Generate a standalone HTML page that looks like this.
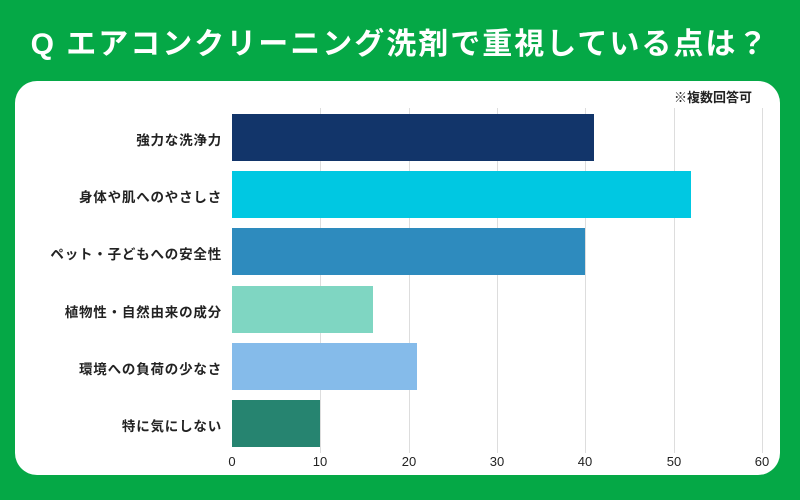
<!DOCTYPE html><html><head><meta charset="utf-8"><style>
body{margin:0;width:800px;height:500px;background:#05a846;position:relative;overflow:hidden;font-family:"Liberation Sans","Noto Sans CJK JP",sans-serif}
.t{position:absolute;left:0;width:800px;top:25px;text-align:center;color:#fff;font-weight:bold;font-size:30px;line-height:40px;letter-spacing:2px}
.card{position:absolute;left:15px;top:81px;width:765px;height:394px;background:#fff;border-radius:22px}
.n{position:absolute;right:48px;top:87px;font-size:13px;font-weight:bold;color:#222}
.g{position:absolute;top:108px;height:345px;width:1px;background:#ddd}
.b{position:absolute;left:232px;height:47px}
.l{position:absolute;right:578px;font-size:13.5px;letter-spacing:0.8px;font-weight:bold;color:#222;white-space:nowrap}
.x{position:absolute;top:454px;font-size:13px;color:#222;width:30px;margin-left:-15px;text-align:center}
</style></head><body>
<div class="t">Q エアコンクリーニング洗剤で重視している点は？</div>
<div class="card"></div>
<div class="n">※複数回答可</div>
<div class="g" style="left:320px"></div><div class="g" style="left:409px"></div><div class="g" style="left:497px"></div><div class="g" style="left:585px"></div><div class="g" style="left:674px"></div><div class="g" style="left:762px"></div>
<div class="b" style="top:114px;width:362px;background:#12356a"></div>
<div class="b" style="top:171px;width:459px;background:#00c8e2"></div>
<div class="b" style="top:228px;width:353px;background:#2e8bbe"></div>
<div class="b" style="top:286px;width:141px;background:#7fd6c2"></div>
<div class="b" style="top:343px;width:185px;background:#85bbea"></div>
<div class="b" style="top:400px;width:88px;background:#268470"></div>
<div class="l" style="top:129px">強力な洗浄力</div>
<div class="l" style="top:186px">身体や肌へのやさしさ</div>
<div class="l" style="top:243px">ペット・子どもへの安全性</div>
<div class="l" style="top:301px">植物性・自然由来の成分</div>
<div class="l" style="top:358px">環境への負荷の少なさ</div>
<div class="l" style="top:415px">特に気にしない</div>
<div class="x" style="left:232px">0</div><div class="x" style="left:320px">10</div><div class="x" style="left:409px">20</div><div class="x" style="left:497px">30</div><div class="x" style="left:585px">40</div><div class="x" style="left:674px">50</div><div class="x" style="left:762px">60</div>
</body></html>
